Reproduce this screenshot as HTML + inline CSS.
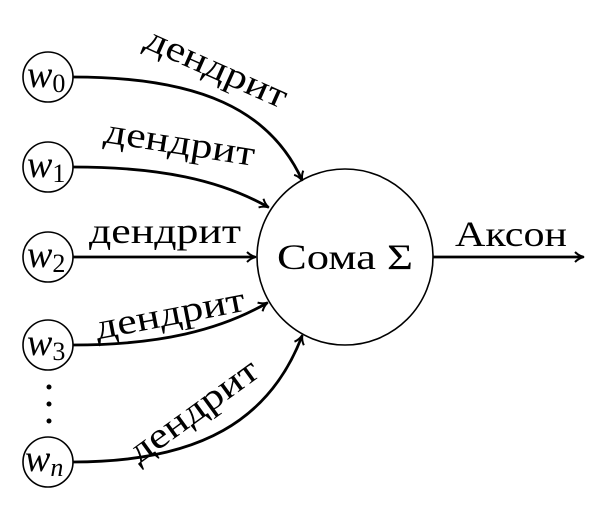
<!DOCTYPE html>
<html><head><meta charset="utf-8"><style>
html,body{margin:0;padding:0;background:#fff;}
</style></head><body>
<svg width="600" height="511" viewBox="0 0 600 511" xmlns="http://www.w3.org/2000/svg" font-family="'Liberation Serif', 'DejaVu Serif', serif">
<defs>
<marker id="a" markerWidth="12" markerHeight="12" refX="9" refY="6" orient="auto" markerUnits="userSpaceOnUse">
<path d="M1,1 Q5,5 10,6 Q5,7 1,11" fill="none" stroke="#000" stroke-width="2"/>
</marker>
</defs>
<g fill="none" stroke="#000" stroke-width="1.6">
<circle cx="48" cy="77" r="25"/>
<circle cx="48" cy="167" r="25"/>
<circle cx="48" cy="257" r="25"/>
<circle cx="48" cy="345" r="25"/>
<circle cx="48" cy="462" r="25"/>
<circle cx="345" cy="257" r="88"/>
</g>
<g fill="none" stroke="#000" stroke-width="2.8" marker-end="url(#a)">
<path d="M73,77 C200,77 270,110 302,180"/>
<path d="M73,167 C160,167 220,180 268,207"/>
<path d="M73,257 L255,257"/>
<path d="M73,345 C160,345 220,330 267,303"/>
<path d="M73,462 C200,462 270,420 302,336"/>
<path d="M433,257 L583,257"/>
</g>
<g fill="#000"><circle cx="49" cy="387" r="2.5"/><circle cx="49" cy="404" r="2.5"/><circle cx="49" cy="421" r="2.5"/></g>
<g font-style="italic" font-size="38" fill="#000">
<text x="27" y="87">w<tspan font-style="normal" font-size="26" dy="5">0</tspan></text>
<text x="27" y="177">w<tspan font-style="normal" font-size="26" dy="5">1</tspan></text>
<text x="27" y="267">w<tspan font-style="normal" font-size="26" dy="5">2</tspan></text>
<text x="27" y="355">w<tspan font-style="normal" font-size="26" dy="5">3</tspan></text>
<text x="25" y="471">w<tspan font-size="26" dy="5">n</tspan></text>
</g>
<g font-size="36" fill="#000" text-anchor="middle">
<text transform="translate(212,78) rotate(24)" textLength="152" lengthAdjust="spacingAndGlyphs">дендрит</text>
<text transform="translate(178,154) rotate(9)" textLength="152" lengthAdjust="spacingAndGlyphs">дендрит</text>
<text x="165" y="243" textLength="152" lengthAdjust="spacingAndGlyphs">дендрит</text>
<text transform="translate(172,325) rotate(-11)" textLength="152" lengthAdjust="spacingAndGlyphs">дендрит</text>
<text transform="translate(200,420) rotate(-36)" textLength="152" lengthAdjust="spacingAndGlyphs">дендрит</text>
<text x="345" y="269" textLength="136" lengthAdjust="spacingAndGlyphs">Сома Σ</text>
<text x="511" y="246" textLength="112" lengthAdjust="spacingAndGlyphs">Аксон</text>
</g>
</svg>
</body></html>
